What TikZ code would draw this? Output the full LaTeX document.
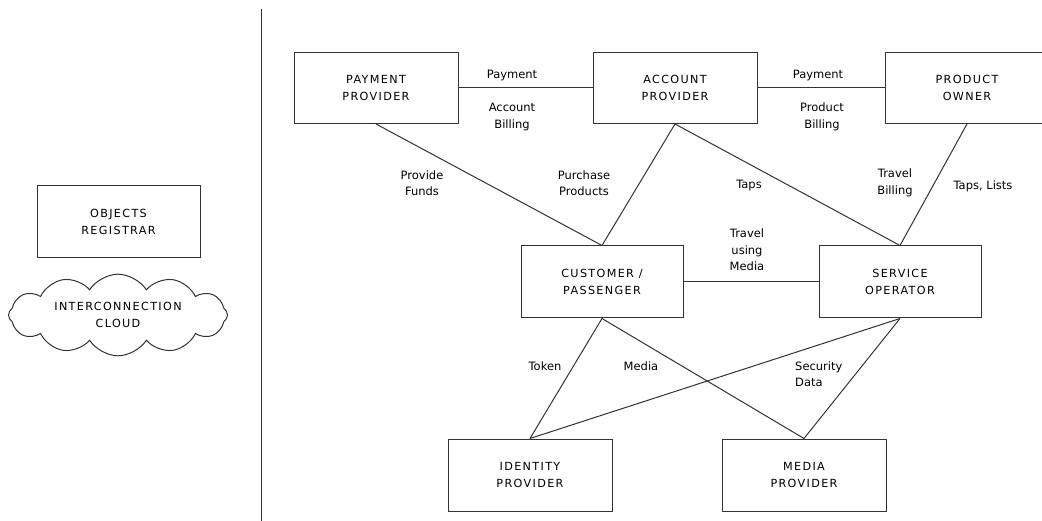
\documentclass[tikz,border=0pt]{standalone}
\usepackage{fontspec}
\usetikzlibrary{shapes.symbols}
\newfontfamily\boxfont[LetterSpace=12]{DejaVu Sans}
\newfontfamily\lblfont{DejaVu Sans}
\begin{document}
\begin{tikzpicture}[x=1pt,y=-1pt,
  ln/.style={draw=black!80,line width=1pt},
  ent/.style={ln,rectangle,minimum width=164pt,minimum height=71pt,inner sep=0pt,align=center,
    font={\boxfont\fontsize{11.2}{17}\selectfont}},
  lbl/.style={align=center,inner sep=0pt,font={\lblfont\fontsize{11.5}{16.5}\selectfont}}]
\useasboundingbox (0,0) rectangle (1042,521);
\fill[white] (0,0) rectangle (1042,521);
\coordinate (vtop) at (261,9);
\coordinate (vbot) at (261,521);
\draw[ln] (vtop) -- (vbot);

\node[ent] (pay) at (376,88) {PAYMENT\\PROVIDER};
\node[ent] (acc) at (675,88) {ACCOUNT\\PROVIDER};
\node[ent] (prod) at (967,88) {PRODUCT\\OWNER};
\node[ent,minimum width=163pt,minimum height=72pt] (reg) at (118.5,222) {OBJECTS\\REGISTRAR};
\node[ent,minimum width=162pt,minimum height=72pt] (cust) at (602,282) {CUSTOMER /\\PASSENGER};
\node[ent,minimum width=162pt,minimum height=72pt] (serv) at (900,282) {SERVICE\\OPERATOR};
\node[ent,minimum height=72pt] (ident) at (530,475) {IDENTITY\\PROVIDER};
\node[ent,minimum height=72pt] (media) at (804,475) {MEDIA\\PROVIDER};
\node[ent,cloud,cloud puffs=12,cloud puff arc=115,aspect=3.1,minimum width=219pt,minimum height=70pt] (cloud) at (118,315) {INTERCONNECTION\\CLOUD};

\draw[ln] (pay.east) -- (acc.west);
\draw[ln] (acc.east) -- (prod.west);
\draw[ln] (pay.south) -- (cust.north);
\draw[ln] (acc.south) -- (cust.north);
\draw[ln] (acc.south) -- (serv.north);
\draw[ln] (prod.south) -- (serv.north);
\draw[ln] (cust.east) -- (serv.west);
\draw[ln] (cust.south) -- (ident.north);
\draw[ln] (cust.south) -- (media.north);
\draw[ln] (serv.south) -- (ident.north);
\draw[ln] (serv.south) -- (media.north);

\node[lbl] (l1) at (512,76) {Payment};
\node[lbl] (l2) at (512,117) {Account\\Billing};
\node[lbl] (l3) at (818,76) {Payment};
\node[lbl] (l4) at (822,117) {Product\\Billing};
\node[lbl] (l5) at (422,183) {Provide\\Funds};
\node[lbl] (l6) at (584,183) {Purchase\\Products};
\node[lbl] (l7) at (749,186) {Taps};
\node[lbl] (l8) at (895,183) {Travel\\Billing};
\node[lbl] (l9) at (983,186) {Taps, Lists};
\node[lbl] (l10) at (747,250) {Travel\\using\\Media};
\node[lbl] (l11) at (545,366) {Token};
\node[lbl] (l12) at (641,366) {Media};
\node[lbl,align=left,anchor=west] (l13) at (795,374) {Security\\Data};
\end{tikzpicture}
\end{document}
